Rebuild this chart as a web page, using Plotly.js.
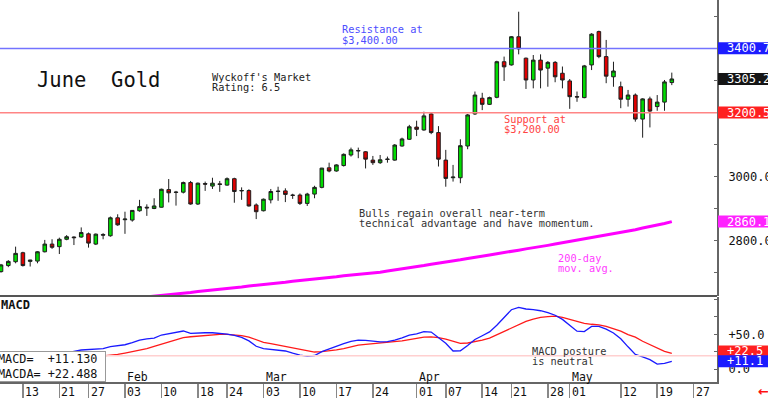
<!DOCTYPE html>
<html>
<head>
<meta charset="utf-8">
<script src="https://cdn.plot.ly/plotly-3.0.1.min.js"></script>
<style>html,body{margin:0;padding:0;background:#fff;}#chart{width:768px;height:398px;}</style>
</head>
<body>
<div id="chart"></div>
<script>
// ---------- DATA ----------
const dates = ['01-08','01-09','01-10','01-13','01-14','01-15','01-16','01-17','01-21','01-22','01-23','01-24',
'01-27','01-28','01-29','01-30','01-31','02-03','02-04','02-05','02-06','02-07','02-10','02-11','02-12','02-13','02-14',
'02-18','02-19','02-20','02-21','02-24','02-25','02-26','02-27','02-28','03-03','03-04','03-05','03-06','03-07',
'03-10','03-11','03-12','03-13','03-14','03-17','03-18','03-19','03-20','03-21','03-24','03-25','03-26','03-27','03-28',
'03-31','04-01','04-02','04-03','04-04','04-07','04-08','04-09','04-10','04-11','04-14','04-15','04-16','04-17',
'04-21','04-22','04-23','04-24','04-25','04-28','04-29','04-30','05-01','05-02','05-05','05-06','05-07','05-08','05-09',
'05-12','05-13','05-14','05-15','05-16','05-19','05-20','05-21'];
const futureSessions = ['05-22','05-23','05-27','05-28','05-29','05-30'];

const open = [2704,2723,2735,2763,2736,2737,2766,2790,2782,2805,2812,2812,2822,2790,2820,2816,2872,2866,2865,2894,2905,2901,
2905,2960,2951,2952,2982,2915,2979,2971,2978,2974,2994,2956,2957,2912,2894,2928,2954,2956,2943,2943,2917,2946,2967,3028,
3018,3035,3068,3082,3078,3052,3044,3054,3052,3096,3117,3155,3146,3196,3138,3052,2997,2997,3096,3196,3245,3226,3248,3359,
3349,3437,3370,3302,3364,3339,3357,3323,3299,3250,3247,3349,3453,3375,3312,3281,3242,3255,3180,3243,3219,3233,3294];
const high = [2728,2740,2782,2766,2741,2768,2803,2805,2810,2818,2814,2842,2826,2823,2824,2876,2883,2891,2896,2928,2914,2933,
2963,2993,2956,2985,2987,2982,2985,2997,2987,2998,2997,2967,2961,2917,2932,2962,2969,2964,2947,2948,2950,2972,3028,3044,
3039,3073,3091,3091,3080,3065,3068,3063,3102,3122,3162,3175,3203,3200,3158,3084,3037,3117,3196,3266,3262,3250,3362,3375,
3439,3515,3372,3380,3382,3361,3361,3344,3305,3266,3349,3448,3456,3427,3359,3297,3271,3260,3245,3250,3255,3302,3325];
const low = [2701,2718,2730,2720,2720,2730,2764,2775,2759,2802,2787,2810,2779,2787,2805,2813,2847,2822,2860,2891,2878,2899,
2904,2920,2910,2948,2913,2912,2956,2962,2953,2972,2919,2928,2907,2868,2892,2917,2925,2921,2931,2912,2909,2933,2964,3014,
3016,3032,3063,3058,3026,3037,3040,3044,3050,3094,3115,3127,3144,3133,3032,2969,2985,2980,3086,3193,3208,3224,3245,3299,
3347,3382,3274,3276,3276,3281,3295,3276,3212,3234,3245,3333,3370,3292,3281,3214,3219,3172,3122,3154,3206,3206,3286];
const close = [2725,2736,2761,2723,2740,2766,2790,2780,2805,2813,2810,2826,2793,2821,2818,2872,2850,2868,2895,2907,2903,2909,
2961,2950,2952,2982,2915,2980,2977,2980,2976,2994,2954,2957,2909,2891,2930,2954,2955,2945,2942,2917,2946,2967,3027,3018,
3037,3070,3084,3081,3055,3044,3053,3055,3099,3118,3156,3148,3190,3138,3055,2995,2999,3097,3193,3255,3226,3247,3359,3343,
3437,3399,3302,3364,3333,3357,3312,3302,3250,3249,3346,3445,3375,3314,3330,3242,3255,3180,3243,3205,3233,3296,3305.2];

const ma200 = [2578,2580,2583,2585,2588,2590,2592,2595,2597,2600,2602,2604,2607,2609,2611,2614,2616,2618,2620,2623,2625,
2627,2630,2632,2635,2637,2639,2642,2644,2647,2649,2651,2654,2656,2659,2661,2664,2666,2669,2671,2674,2676,2679,2681,2684,
2686,2688,2691,2693,2696,2698,2700,2702,2706,2709,2713,2716,2720,2723,2727,2730,2734,2737,2741,2745,2748,2752,2756,2760,
2763,2767,2771,2775,2778,2782,2786,2790,2794,2798,2801,2805,2810,2814,2818,2822,2827,2831,2835,2840,2844,2848,2854,2860.1];

const macd = [2,4,6,8,10,12,14,17,20.5,23.5,25.5,27.4,28,28.2,29.5,32.2,33.5,35,38,41.5,43.5,44.5,49,51,52.5,54.8,51.4,
52.3,52.3,52.3,51.5,50.2,48.5,45.5,40.5,32.8,29.5,28,27,26,22.8,20,18.7,19.5,25,29,33,36.5,39.8,41.5,41.3,40.5,39,39.5,
41.5,45,48.8,50.5,54,53.3,45,37,26,26.3,34,42.5,48,53.5,63,74,85.5,88.8,86.5,85.5,84,81.4,77.5,71.5,63.5,54.5,54,61.5,
61.5,57.5,52,43.5,32,21,17.5,13.5,7.2,8.2,11.13];
const macda = [2,3,4,5.5,7,8,9,10.5,12,13.5,15,16,17,18,18.7,19.5,21,23,24.8,27,29.5,32.5,35.5,38.5,42,45.1,46.5,47.5,
48.8,49.5,49.8,50,49.3,48.2,46,42,38.5,36.5,34.5,31.8,29.5,27.5,25.5,24.5,25,26,27.5,29.5,32,34.3,35.5,36.5,37.5,38,
39.5,40.5,42.5,44.5,46,46.3,45.2,43,40,37,37.5,39.4,41.5,44.5,49.5,54.5,58.8,64,68.7,72,74.5,75.6,76.3,74.5,71.8,68.5,
65.9,64.5,63.6,61.5,58.5,54.5,49.5,46,40,35,30.5,25.5,22.488];

const tickDates = ['01-13','01-21','01-27','02-03','02-10','02-18','02-24','03-03','03-10','03-17','03-24',
'04-01','04-07','04-14','04-21','04-28','05-01','05-12','05-19','05-27'];
const tickLabels = ['13','21','27','03','10','18','24','03','10','17','24','01','07','14','21','28','01','12','19','27'];
const monthDates = ['02-03','03-03','04-01','05-01'];
const monthLabels = ['Feb','Mar','Apr','May'];

const priceTicks = [2700,2800,2900,3000,3100,3200,3300,3400,3500];
const priceTickText = ['','2800.0','','3000.0','','3200.0','','3400.0',''];
const macdTicks = [0,25,50,75,100];
const macdTickText = ['0.0','','+50.0','',''];

const resistance = 3400, support = 3200, macdRefLevel = 19;
const lastResistance = 3400.7, lastClose = 3305.2, lastSupport = 3200.5, lastMA = 2860.1;
const lastMACD = 11.130, lastMACDA = 22.488;

// ---------- BUILD ----------
const sessions = dates.concat(futureSessions);
const xIdx = dates.map(d => sessions.indexOf(d));
const tickIdx = tickDates.map(d => sessions.indexOf(d));
const mono = 'DejaVu Sans Mono';

const traces = [
  {type:'candlestick', x:xIdx, open:open, high:high, low:low, close:close, xaxis:'x', yaxis:'y',
   increasing:{line:{color:'#1e1e1e', width:1}, fillcolor:'#00dd00'},
   decreasing:{line:{color:'#1e1e1e', width:1}, fillcolor:'#e00000'},
   whiskerwidth:0, hoverinfo:'none', showlegend:false},
  {type:'scatter', mode:'lines', x:xIdx, y:ma200, xaxis:'x', yaxis:'y',
   line:{color:'#ff00ff', width:3}, hoverinfo:'none'},
  {type:'scatter', mode:'lines', x:xIdx, y:macda, xaxis:'x', yaxis:'y2',
   line:{color:'#ff1a1a', width:1.3}, hoverinfo:'none'},
  {type:'scatter', mode:'lines', x:xIdx, y:macd, xaxis:'x', yaxis:'y2',
   line:{color:'#1a1aff', width:1.3}, hoverinfo:'none'}
];

const PR = 717, PB = 382;
const pxX = x => x / PR;
const pxY = y => (PB - y) / PB;

function txt(text, x, y, color, size, extra) {
  return Object.assign({xref:'paper', yref:'paper', x:pxX(x), y:pxY(y), xanchor:'left', yanchor:'middle',
    text:text, showarrow:false, font:{family:mono, size:size || 10.3, color:color || '#222'}}, extra || {});
}

const annotations = [
  txt('June\u00a0\u00a0Gold', 35, 80, '#111', 20.5),
  txt("Wyckoff's Market", 210, 76.7, '#222'),
  txt('Rating: 6.5', 210, 87.3, '#222'),
  txt('Resistance at', 340, 29, '#4d4dff'),
  txt('$3,400.00', 340, 40, '#4d4dff'),
  txt('Support at', 502, 119, '#ff4444'),
  txt('$3,200.00', 502, 128.7, '#ff4444'),
  txt('Bulls regain overall near-term', 357, 212.7, '#333'),
  txt('technical advantage and have momentum.', 357, 223.3, '#333'),
  txt('200-day', 556, 257.7, '#ff3cff'),
  txt('mov. avg.', 556, 268.3, '#ff3cff'),
  txt('<b>MACD</b>', -1, 305, '#111', 12),
  txt('MACD posture', 529.5, 351, '#333'),
  txt('is neutral', 529.5, 361, '#333'),
  {xref:'paper', yref:'paper', x:0, y:0, xanchor:'left', yanchor:'bottom', xshift:-3, showarrow:false, align:'left',
   text:'MACD=\u00a0\u00a0' + '+' + lastMACD.toFixed(3) + '\u00a0<br>MACDA=\u00a0' + '+' + lastMACDA.toFixed(3) + '\u00a0',
   font:{family:mono, size:11.8, color:'#111'}, bgcolor:'#ffffff', bordercolor:'#999', borderwidth:1, borderpad:0}
];

monthDates.forEach((d, i) => {
  annotations.push({xref:'x', yref:'paper', x:sessions.indexOf(d), y:pxY(377.3), xanchor:'left', yanchor:'middle',
    xshift:0, text:monthLabels[i], showarrow:false, font:{family:mono, size:11.5, color:'#111'}});
});
tickIdx.forEach((ix, i) => {
  annotations.push({xref:'x', yref:'paper', x:ix, y:0, xanchor:'left', yanchor:'top', xshift:0, yshift:-1,
    text:tickLabels[i], showarrow:false, font:{family:mono, size:11.5, color:'#111'}});
});

// right-hand value boxes
const boxes = [
  {v:lastResistance, ax:'y', bg:'#1c1cff', fg:'#ffffff'},
  {v:lastClose, ax:'y', bg:'#151515', fg:'#ffffff'},
  {v:lastSupport, ax:'y', bg:'#ff2020', fg:'#ffffff'},
  {v:lastMA, ax:'y', bg:'#ff22ff', fg:'#ffffff'},
  {v:lastMACDA, ax:'y2', bg:'#ff2020', fg:'#ffffff', sh:2},
  {v:lastMACD, ax:'y2', bg:'#1c1cff', fg:'#ffffff', sh:0, plus:true}
];
const shapes = [
  {type:'line', xref:'paper', x0:0, x1:1, yref:'y', y0:resistance, y1:resistance, line:{color:'#7373ff', width:1.5}},
  {type:'line', xref:'paper', x0:0, x1:1, yref:'y', y0:support, y1:support, line:{color:'#ff8585', width:1.5}},
  {type:'line', xref:'paper', x0:0, x1:1, yref:'y2', y0:macdRefLevel, y1:macdRefLevel, line:{color:'#ffd0d0', width:1.5}},
  {type:'line', xref:'paper', x0:0, x1:1, yref:'paper', y0:pxY(296), y1:pxY(296), line:{color:'#555', width:2}}
];
boxes.forEach((b, i) => {
  const label = (b.ax === 'y2' ? '+' + b.v.toFixed(1) : b.v.toFixed(1));
  shapes.push({type:'rect', xref:'paper', x0:pxX(718), x1:pxX(790), yref:b.ax, ysizemode:'pixel', yanchor:b.v,
    y0:-6 + (b.sh || 0), y1:6 + (b.sh || 0), fillcolor:b.bg, line:{width:0}, layer:'above'});
  annotations.push({xref:'paper', yref:b.ax, x:pxX(725), y:b.v, xanchor:'left', yanchor:'middle', yshift:(b.sh || 0),
    text:label, showarrow:false, font:{family:mono, size:12, color:b.fg}});
});
annotations.push({xref:'paper', yref:'paper', x:pxX(756), y:pxY(391), xanchor:'left', yanchor:'middle',
  text:'<b>\u2190</b>', showarrow:false, font:{family:'DejaVu Sans', size:13, color:'#ff1010'}});

const layout = {
  width:768, height:398, margin:{l:0, r:51, t:0, b:16, pad:0},
  paper_bgcolor:'#ffffff', plot_bgcolor:'#ffffff', showlegend:false,
  xaxis:{domain:[0,1], anchor:'y2', range:[-0.14, 98.2], tickvals:tickIdx, ticktext:tickLabels, showticklabels:false,
    ticks:'outside', ticklen:16, tickwidth:1.5, tickcolor:'#888', showline:true, linecolor:'#666', linewidth:2,
    showgrid:false, zeroline:false, rangeslider:{visible:false}, fixedrange:true},
  yaxis:{domain:[pxY(296), 1], anchor:'x', side:'right', range:[2628, 3551.6], tickvals:priceTicks, ticktext:priceTickText,
    ticks:'inside', ticklen:3, tickcolor:'#666', showline:true, linecolor:'#666', linewidth:2, showgrid:false, zeroline:false,
    ticklabelstandoff:7, tickfont:{family:mono, size:12, color:'#111'}},
  yaxis2:{domain:[0, pxY(297)], anchor:'x', side:'right', range:[-18.7, 103.8], tickvals:macdTicks, ticktext:macdTickText,
    ticks:'inside', ticklen:3, tickcolor:'#666', showline:true, linecolor:'#666', linewidth:2, showgrid:false, zeroline:false,
    ticklabelstandoff:7, tickfont:{family:mono, size:12, color:'#111'}},
  shapes:shapes, annotations:annotations
};

Plotly.newPlot('chart', traces, layout, {displayModeBar:false, staticPlot:true});
</script>
</body>
</html>
